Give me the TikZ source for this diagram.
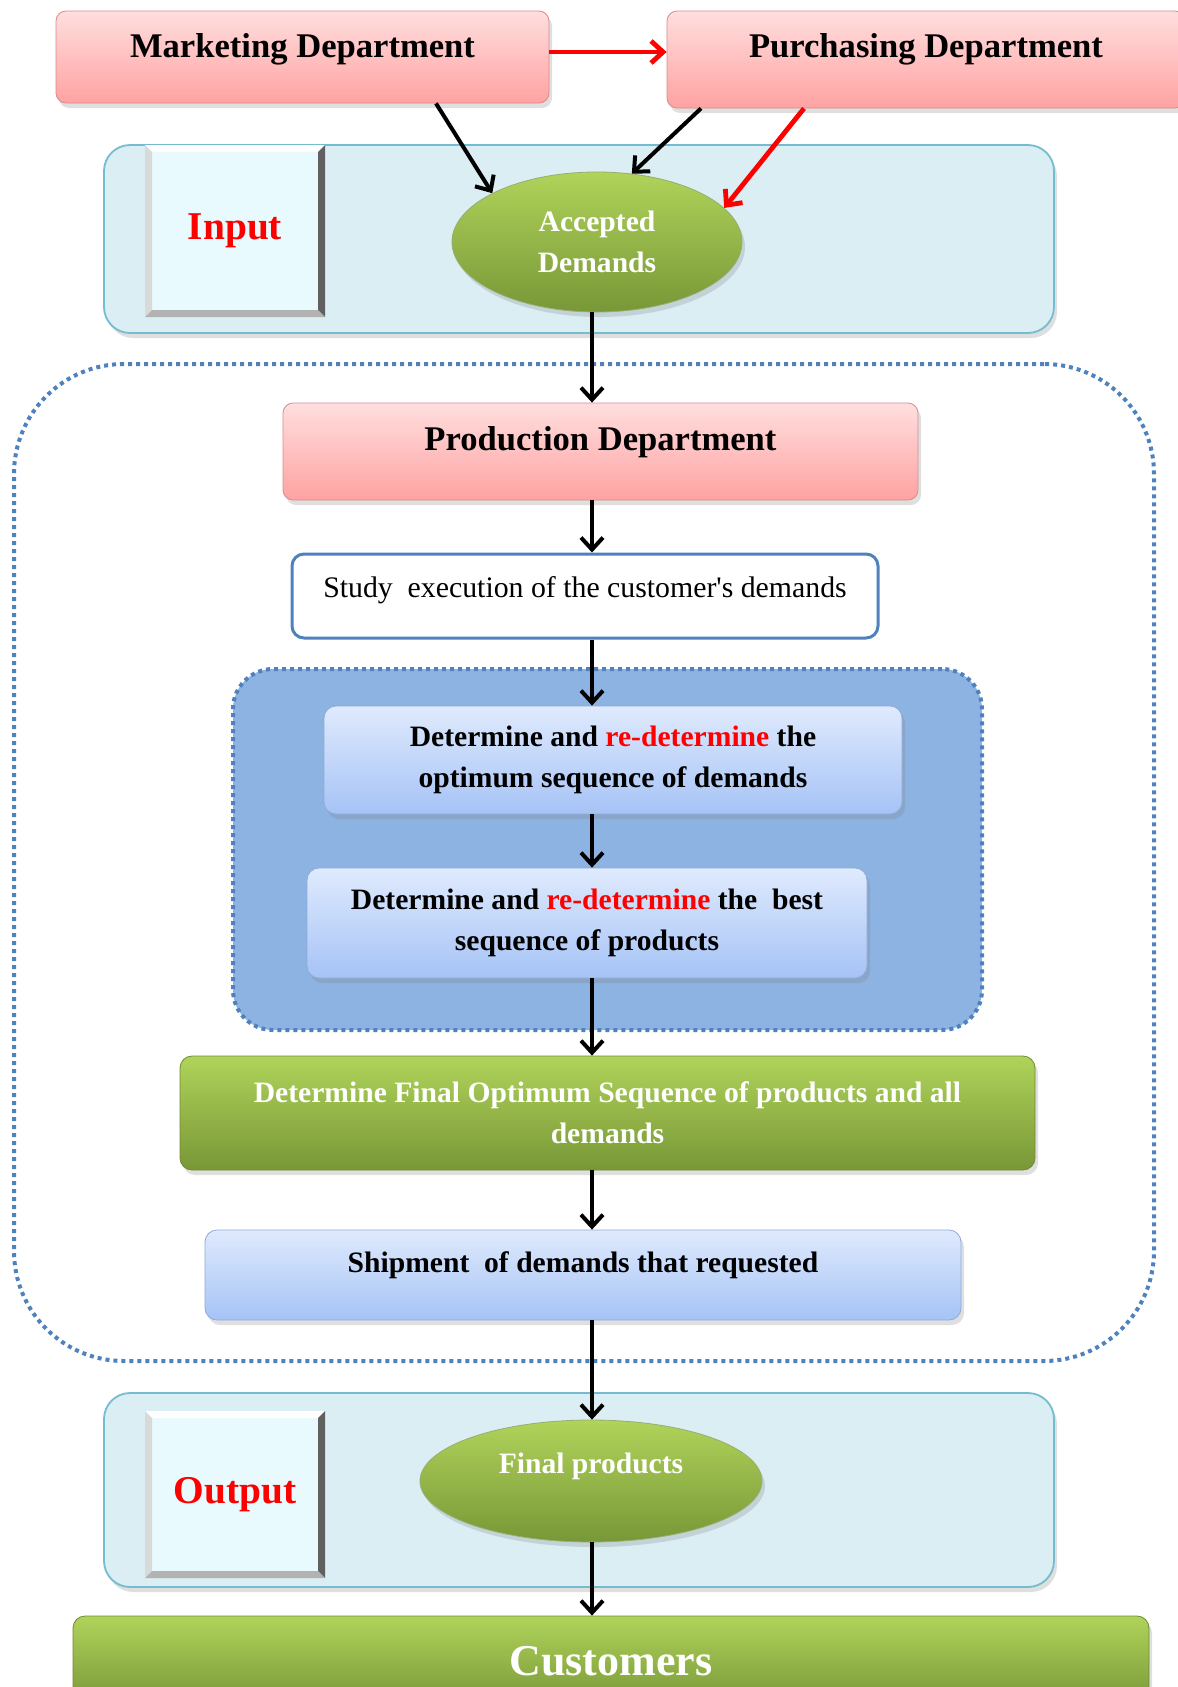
\documentclass[tikz,border=0pt]{standalone}
\usepackage{fontspec}
\setmainfont{Liberation Serif}
\usetikzlibrary{arrows.meta,shapes.geometric,shadows,positioning}
\definecolor{depttop}{HTML}{FFDEDE}
\definecolor{deptbottom}{HTML}{FFA2A2}
\definecolor{deptborder}{HTML}{D98B8B}
\definecolor{steptop}{HTML}{DFEAFD}
\definecolor{stepbottom}{HTML}{A6C3F6}
\definecolor{stepborder}{HTML}{8FAAD9}
\definecolor{greentop}{HTML}{B0D35A}
\definecolor{greenbottom}{HTML}{789737}
\definecolor{greenborder}{HTML}{6E8A33}
\definecolor{panelfill}{HTML}{DAEEF3}
\definecolor{panelborder}{HTML}{74BCD0}
\definecolor{seqfill}{HTML}{8DB3E2}
\definecolor{dotblue}{HTML}{4F81BD}
\definecolor{tagfill}{HTML}{E8FAFE}
\newcommand{\deptfont}{\bfseries\fontsize{17.3}{21}\selectfont}
\newcommand{\stepfont}{\bfseries\fontsize{14.8}{20.4}\selectfont}
\newcommand{\studyfont}{\fontsize{14.9}{20.4}\selectfont}
\newcommand{\tagfont}{\bfseries\fontsize{19.7}{24}\selectfont}
\newcommand{\custfont}{\bfseries\fontsize{22}{26}\selectfont}
\tikzset{
  softshadow/.style={drop shadow={opacity=0.25,shadow xshift=1.5pt,shadow yshift=-2.5pt}},
  dept/.style={draw=deptborder,top color=depttop,bottom color=deptbottom,rounded corners=5pt,font=\deptfont,softshadow},
  stepbox/.style={draw=stepborder,top color=steptop,bottom color=stepbottom,rounded corners=6pt,align=center,font=\stepfont,softshadow},
  greenbox/.style={draw=greenborder,top color=greentop,bottom color=greenbottom,rounded corners=6pt,align=center,text=white,font=\stepfont,softshadow},
  oval/.style={ellipse,draw=greenborder!70,top color=greentop,bottom color=greenbottom,align=center,text=white,font=\stepfont,softshadow},
  panel/.style={draw=panelborder,fill=panelfill,line width=0.9pt,rounded corners=13pt,softshadow},
  dotpanel/.style={draw=dotblue,line width=2pt,dash pattern=on 2pt off 2pt},
  tagbox/.style={fill=tagfill,text=red,font=\tagfont,
    path picture={
      \coordinate (nw) at (path picture bounding box.north west);
      \coordinate (ne) at (path picture bounding box.north east);
      \coordinate (sw) at (path picture bounding box.south west);
      \coordinate (se) at (path picture bounding box.south east);
      \fill[white] (nw) -- (ne) -- ([shift={(-3.5pt,-3.5pt)}]ne) -- ([shift={(3.5pt,-3.5pt)}]nw) -- cycle;
      \fill[gray!30] (nw) -- (sw) -- ([shift={(3.5pt,3.5pt)}]sw) -- ([shift={(3.5pt,-3.5pt)}]nw) -- cycle;
      \fill[gray!75!black] (ne) -- (se) -- ([shift={(-3.5pt,3.5pt)}]se) -- ([shift={(-3.5pt,-3.5pt)}]ne) -- cycle;
      \fill[gray!60] (sw) -- (se) -- ([shift={(-3.5pt,3.5pt)}]se) -- ([shift={(3.5pt,3.5pt)}]sw) -- cycle;
    }},
  flow/.style={-{Straight Barb[length=6pt,width=11pt]},line width=2pt},
  flowred/.style={flow,red,line width=2.4pt}
}
\begin{document}
\begin{tikzpicture}[x=0.5pt,y=-0.5pt]
\useasboundingbox (0,0) rectangle (1178,1687);
\coordinate (spine) at (592,0);
% panels
\node[dotpanel,rounded corners=55pt,minimum width=570pt,minimum height=498.5pt] (prodpanel) at (584,862.5) {};
\node[panel,minimum width=475pt,minimum height=94pt] (inpanel) at (579,239) {};
\node[panel,minimum width=475pt,minimum height=97pt] (outpanel) at (579,1490) {};
\node[dotpanel,fill=seqfill,rounded corners=20pt,minimum width=374.5pt,minimum height=180.5pt] (seqpanel) at (607.5,849.5) {};
% departments
\node[dept,minimum width=246.5pt,minimum height=46pt,text depth=12pt] (mkt) at (302.5,57) {Marketing Department};
\node[dept,minimum width=259pt,minimum height=48.5pt,text depth=14pt] (pur) at (926,59.5) {Purchasing Department};
% input
\node[tagbox,minimum width=90pt,minimum height=86pt] (intag) at (235,231) {Input};
\node[oval,minimum width=145pt,minimum height=70pt] (acc) at (597,242) {Accepted\\Demands};
% production
\node[dept,minimum width=317.5pt,minimum height=48.5pt,text depth=13.5pt] (prod) at (600.5,451.5) {Production Department};
\node[draw=dotblue,fill=white,line width=1.5pt,rounded corners=6pt,font=\studyfont,minimum width=293pt,minimum height=42pt,text depth=9pt] (study) at (585,596) {Study\ \ execution of the customer\textquotesingle s demands};
\node[stepbox,minimum width=289pt,minimum height=54pt] (seqdem) at (613,760) {Determine and \textcolor{red}{re-determine} the\\optimum sequence of demands};
\node[stepbox,minimum width=280pt,minimum height=55pt] (seqprod) at (587,923) {Determine and \textcolor{red}{re-determine} the\ \ best\\sequence of products};
\node[greenbox,minimum width=427.5pt,minimum height=57pt] (final) at (607.5,1113) {Determine Final Optimum Sequence of products and all\\demands};
\node[stepbox,minimum width=378pt,minimum height=45pt,text depth=13pt] (ship) at (583,1275) {Shipment\ \ of demands that requested};
% output
\node[tagbox,minimum width=90pt,minimum height=83.5pt] (outtag) at (235,1494.5) {Output};
\node[oval,minimum width=171pt,minimum height=61pt,text depth=18pt] (fprod) at (591,1481) {Final products};
\node[greenbox,font=\custfont,minimum width=538pt,minimum height=45pt] (cust) at (611,1661) {Customers};
% arrows
\draw[flowred] ([yshift=2.5pt]mkt.east) -- ([yshift=2.5pt]mkt.east -| pur.west);
\draw[flow] ([xshift=66.75pt]mkt.south) -- (acc.155);
\draw[flow] ([xshift=-112.5pt]pur.south) -- (acc.63);
\draw[flowred] ([xshift=-61pt]pur.south) -- (acc.15);
\draw[flow] (acc.south -| spine) -- (prod.north -| spine);
\draw[flow] (prod.south -| spine) -- (study.north -| spine);
\draw[flow] (study.south -| spine) -- (seqdem.north -| spine);
\draw[flow] (seqdem.south -| spine) -- (seqprod.north -| spine);
\draw[flow] (seqprod.south -| spine) -- (final.north -| spine);
\draw[flow] (final.south -| spine) -- (ship.north -| spine);
\draw[flow] (ship.south -| spine) -- (fprod.north -| spine);
\draw[flow] (fprod.south -| spine) -- (cust.north -| spine);
\end{tikzpicture}
\end{document}
